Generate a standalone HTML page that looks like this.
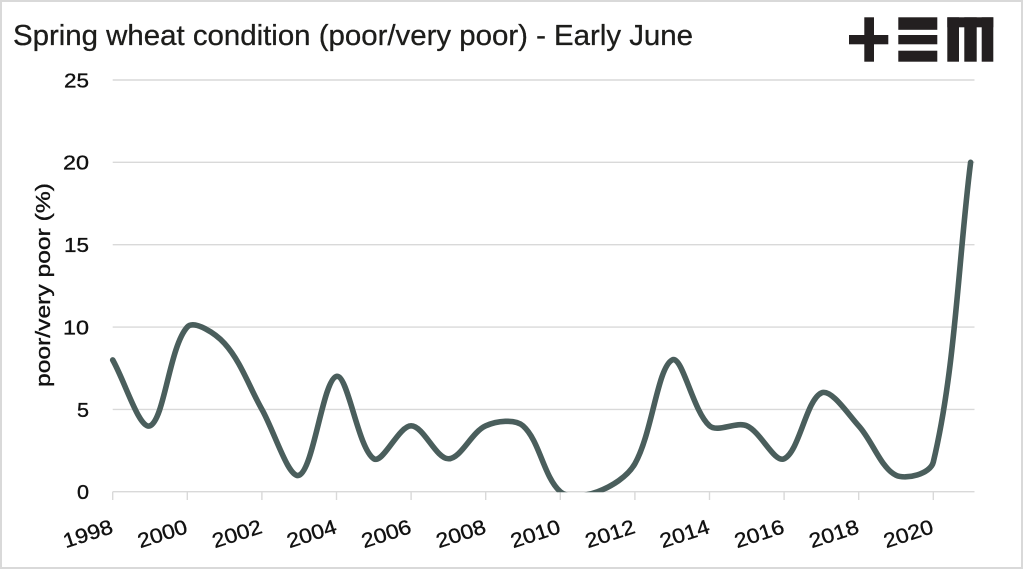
<!DOCTYPE html>
<html>
<head>
<meta charset="utf-8">
<style>
  html,body{margin:0;padding:0;background:#fff;}
  svg{display:block;}
  text{font-family:"Liberation Sans","DejaVu Sans",sans-serif;fill:#111;stroke:#111;stroke-width:0.35px;}
</style>
</head>
<body>
<svg id="c" width="1024" height="570" viewBox="0 0 1024 570" xmlns="http://www.w3.org/2000/svg">
  <defs>
    <clipPath id="plotclip"><rect x="0" y="0" width="1024" height="492.2"/></clipPath>
  </defs>
  <rect x="1" y="1" width="1021" height="567" fill="#fff" stroke="#d9d9d9" stroke-width="2"/>

  <!-- Title -->
  <text x="13" y="45" font-size="29" textLength="680" lengthAdjust="spacingAndGlyphs" style="fill:#1d1d1b;stroke:#1d1d1b;stroke-width:0.3px">Spring wheat condition (poor/very poor) - Early June</text>

  <!-- Logo -->
  <g fill="#231f20">
    <rect x="849" y="35" width="39.3" height="9.3"/>
    <rect x="864.3" y="17.3" width="9.7" height="44.4"/>
    <rect x="898.3" y="17.3" width="39" height="12.5"/>
    <rect x="898.3" y="35" width="39" height="9.3"/>
    <rect x="898.3" y="50.7" width="39" height="11"/>
    <rect x="947.3" y="17.3" width="46" height="10"/>
    <rect x="947.3" y="17.3" width="11.7" height="44.4"/>
    <rect x="964.3" y="17.3" width="12.4" height="44.4"/>
    <rect x="981.7" y="17.3" width="11.6" height="44.4"/>
  </g>

  <!-- Gridlines -->
  <g stroke="#d9d9d9" stroke-width="1.4">
    <line x1="112.7" y1="80" x2="974.5" y2="80"/>
    <line x1="112.7" y1="162.3" x2="974.5" y2="162.3"/>
    <line x1="112.7" y1="244.7" x2="974.5" y2="244.7"/>
    <line x1="112.7" y1="327.1" x2="974.5" y2="327.1"/>
    <line x1="112.7" y1="409.4" x2="974.5" y2="409.4"/>
    <line x1="112.7" y1="491.7" x2="974.5" y2="491.7"/>
  </g>
  <!-- Ticks -->
  <g id="ticks" stroke="#d9d9d9" stroke-width="1.4"></g>

  <!-- Y labels -->
  <g font-size="20.5" text-anchor="end">
    <text x="89" y="87.4" textLength="25" lengthAdjust="spacingAndGlyphs">25</text>
    <text x="89" y="169.7" textLength="26" lengthAdjust="spacingAndGlyphs">20</text>
    <text x="89" y="252.1" textLength="25" lengthAdjust="spacingAndGlyphs">15</text>
    <text x="89" y="334.5" textLength="26" lengthAdjust="spacingAndGlyphs">10</text>
    <text x="89" y="416.8" textLength="12" lengthAdjust="spacingAndGlyphs">5</text>
    <text x="89" y="499.1" textLength="12" lengthAdjust="spacingAndGlyphs">0</text>
  </g>

  <!-- Y axis title -->
  <text transform="translate(50,285) rotate(-90)" font-size="20.5" text-anchor="middle" textLength="204" lengthAdjust="spacingAndGlyphs">poor/very poor (%)</text>

  <!-- X labels -->
  <g id="xlabels" font-size="20.5" text-anchor="end"></g>

  <!-- Series -->
  <path id="series" clip-path="url(#plotclip)" fill="none" stroke="#4a5e5c" stroke-width="5.6" stroke-linecap="round" stroke-linejoin="round" d=""/>
</svg>
<script>
(function(){
  var NS="http://www.w3.org/2000/svg";
  var vals=[8,4,10,9,5,1,7,2,4,2,4,4,0,0,1.7,8,4,4,2,6,4,1,1.8,20];
  var X0=112.7, DX=37.3, Y0=491.7, KY=16.47;
  var P=vals.map(function(v,i){return [X0+i*DX, Y0-v*KY];});
  function dist(a,b){return Math.hypot(b[0]-a[0],b[1]-a[1]);}
  var s="M"+P[0][0].toFixed(2)+","+P[0][1].toFixed(2);
  for(var i=0;i<P.length-1;i++){
    var p0=P[i-1]||P[i], p1=P[i], p2=P[i+1], p3=P[i+2]||P[i+1];
    var d01=dist(p0,p1), d12=dist(p1,p2), d23=dist(p2,p3);
    var f1=d12/(d01+d12)/3, f2=d12/(d12+d23)/3;
    var c1=[p1[0]+(p2[0]-p0[0])*f1, p1[1]+(p2[1]-p0[1])*f1];
    var c2=[p2[0]-(p3[0]-p1[0])*f2, p2[1]-(p3[1]-p1[1])*f2];
    s+=" C"+c1[0].toFixed(2)+","+c1[1].toFixed(2)+" "+c2[0].toFixed(2)+","+c2[1].toFixed(2)+" "+p2[0].toFixed(2)+","+p2[1].toFixed(2);
  }
  document.getElementById("series").setAttribute("d",s);

  var ticks=document.getElementById("ticks");
  var xl=document.getElementById("xlabels");
  for(var k=0;k<=11;k++){
    var x=X0+k*2*DX;
    var ln=document.createElementNS(NS,"line");
    ln.setAttribute("x1",x);ln.setAttribute("x2",x);
    ln.setAttribute("y1",491.7);ln.setAttribute("y2",500);
    ticks.appendChild(ln);
    var t=document.createElementNS(NS,"text");
    t.setAttribute("transform","translate("+(x+1.5)+",532.5) rotate(-18)");
    t.setAttribute("textLength","51");
    t.setAttribute("lengthAdjust","spacingAndGlyphs");
    t.textContent=String(1998+2*k);
    xl.appendChild(t);
  }
})();
</script>
</body>
</html>
